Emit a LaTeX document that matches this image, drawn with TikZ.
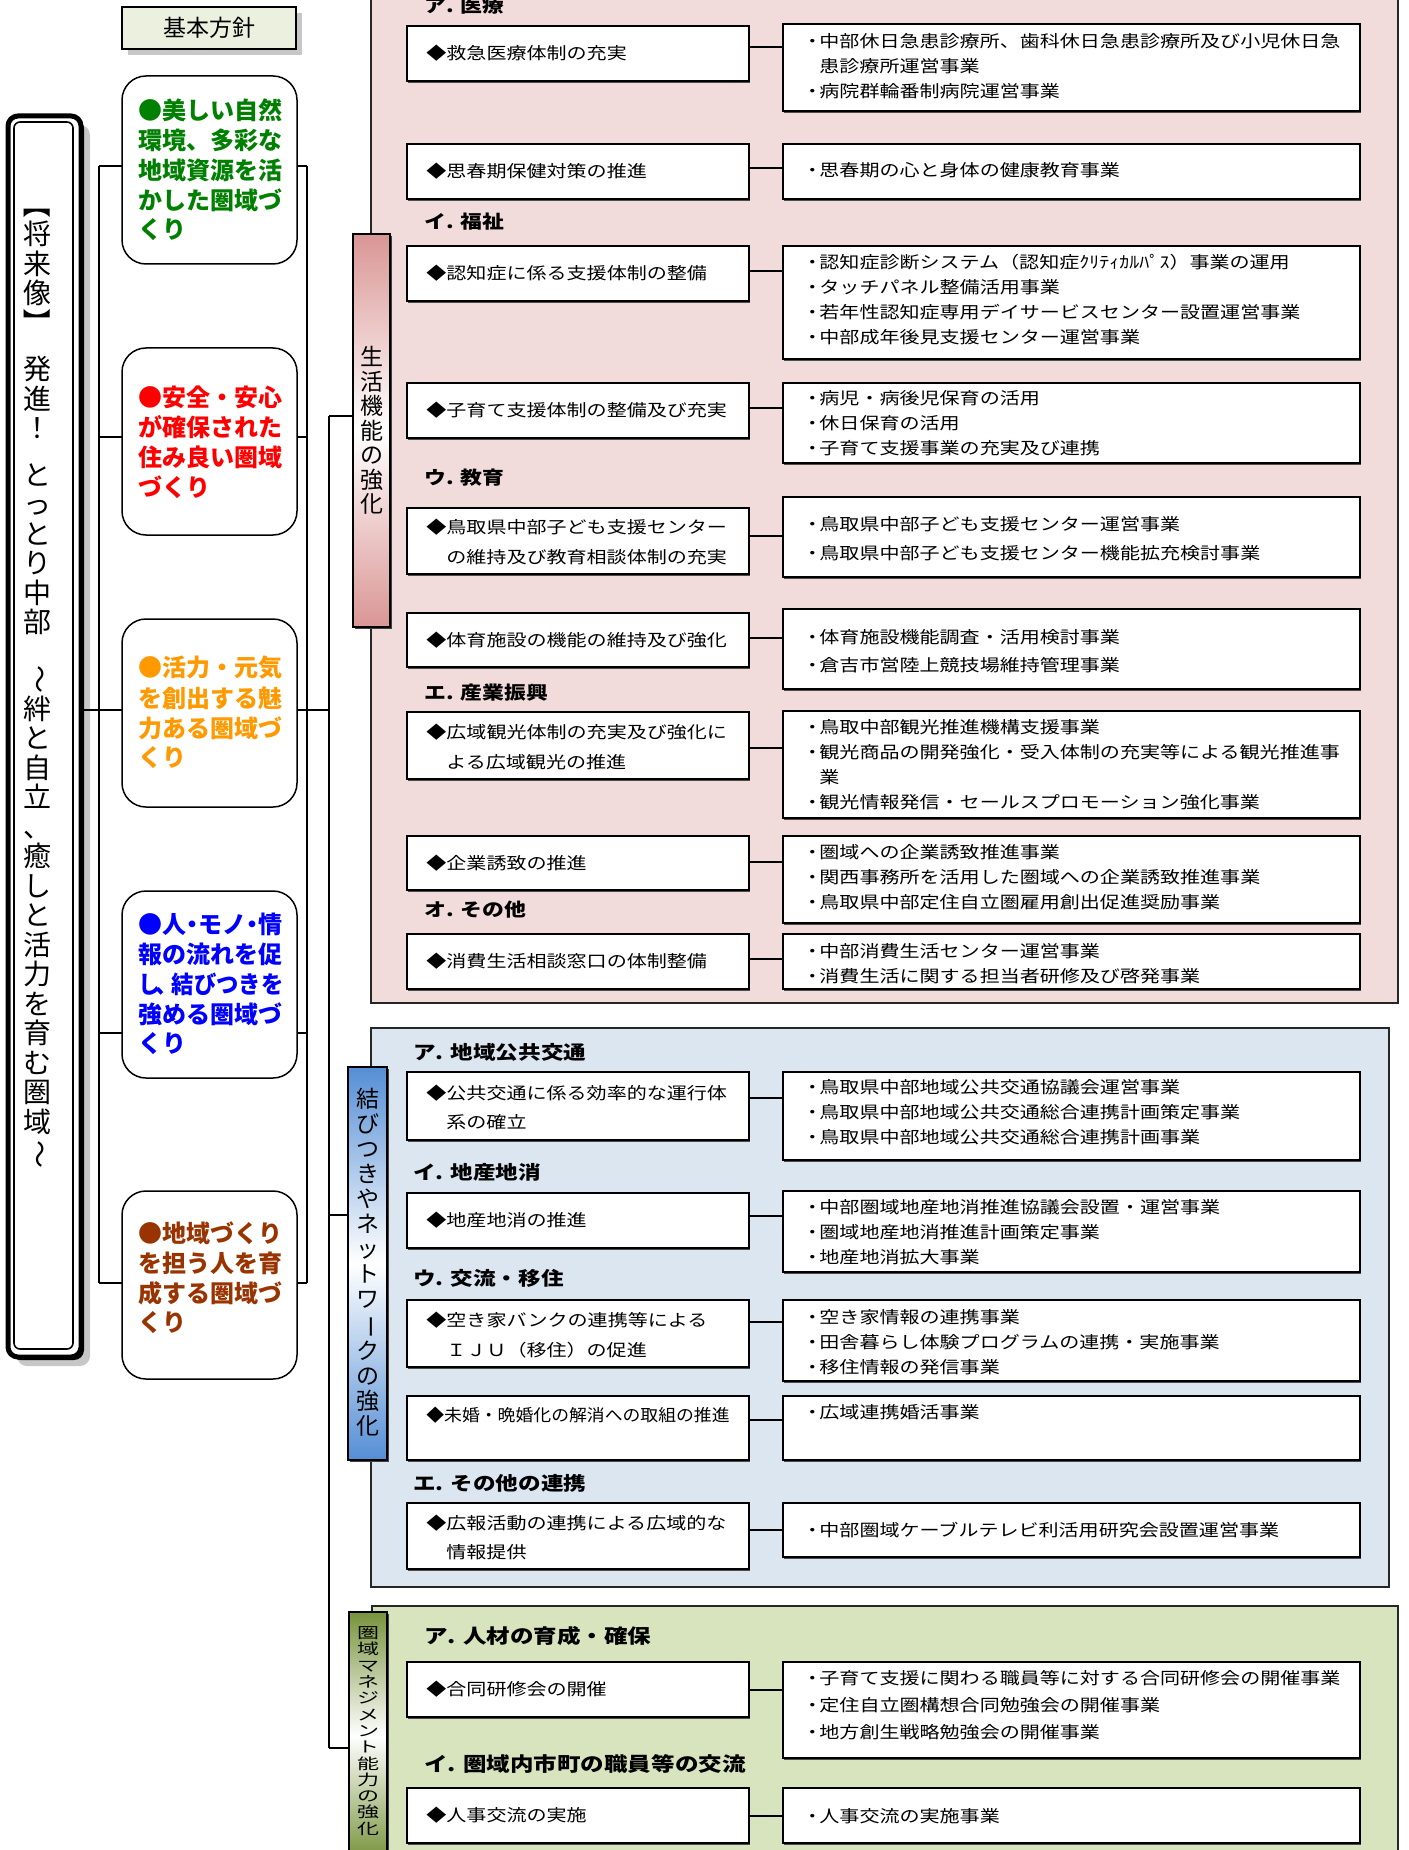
\documentclass[tikz,border=0pt]{standalone}
\usepackage{fontspec}
\usepackage{graphicx}
\setmainfont{Noto Sans CJK JP}
\newfontfamily\pfont{Noto Sans CJK JP}[FakeStretch=1.2]
\usetikzlibrary{shadows}
\definecolor{pinkbg}{RGB}{242,220,219}
\definecolor{bluebg}{RGB}{220,230,241}
\definecolor{greenbg}{RGB}{215,228,189}
\definecolor{kihonbg}{RGB}{235,241,222}
\definecolor{redlab}{RGB}{217,150,148}
\definecolor{bluelab}{RGB}{85,142,213}
\definecolor{greenlab}{RGB}{119,147,60}
\definecolor{pgreen}{RGB}{0,128,0}
\definecolor{pred}{RGB}{255,0,0}
\definecolor{porange}{RGB}{255,153,0}
\definecolor{pblue}{RGB}{0,0,255}
\definecolor{pbrown}{RGB}{153,51,0}
\newcommand\vrot[1]{\rotatebox[origin=c]{-90}{#1}}
\newcommand\bulp{\makebox[7pt][c]{・}}
\newcommand\indr{\hspace*{7pt}}
\newcommand\indl{\hspace*{10pt}}
\newcommand\halfw[1]{\makebox[0.5em][c]{#1}}
\newcommand\rbox[6][]{\node[#1,anchor=north west,inner sep=0pt,outer sep=0pt,minimum width={((#5)-(#3))*0.5pt},minimum height={((#6)-(#4))*0.5pt}] (#2) at (#3,#4) {};}
\newcommand\tlines[6][]{\foreach \s [count=\i from 0] in {#6}{\node[ptext,#1,anchor=west] (#2-\i) at (#3,{#4+\i*(#5)}) {\ignorespaces\s};}}
\begin{document}
\begin{tikzpicture}[x=0.5pt,y=-0.5pt,
  tree/.style={line width=0.75pt},
  conn/.style={line width=1.1pt},
  lb/.style={draw,line width=1pt,fill=white,general shadow={fill=black!70,shadow xshift=0.6pt,shadow yshift=-0.8pt}},
  panel/.style={draw=black!85,line width=0.8pt,general shadow={fill=black!60,shadow xshift=0.7pt,shadow yshift=-0.7pt}},
  lab/.style={draw,line width=1pt,general shadow={fill=black!75,shadow xshift=0.8pt,shadow yshift=-0.8pt}},
  polst/.style={draw,line width=0.75pt,rounded corners=12pt,fill=white},
  kihonst/.style={draw,line width=0.8pt,fill=kihonbg,general shadow={fill=black!22,shadow xshift=3pt,shadow yshift=-3pt}},
  visionst/.style={draw,line width=2.5pt,rounded corners=5pt,fill=white,
     general shadow={fill=black!22,shadow xshift=4.5pt,shadow yshift=-4.5pt},
     general shadow={fill=black,shadow xshift=1.5pt,shadow yshift=-1.5pt}},
  ptext/.style={inner sep=0pt,font=\pfont\fontsize{8.35pt}{10pt}\selectfont},
  hP/.style={font=\pfont\bfseries\fontsize{9.1pt}{10pt}\selectfont},
  hB/.style={font=\pfont\bfseries\fontsize{9.4pt}{10pt}\selectfont},
  hG/.style={font=\pfont\bfseries\fontsize{9.8pt}{11pt}\selectfont},
  poltext/.style={font=\bfseries\fontsize{12pt}{15pt}\selectfont},
  labtext/.style={inner sep=0pt,align=center},
]
\useasboundingbox (0,0) rectangle (1408,1850);
\clip (0,0) rectangle (1408,1850);

% ---------- panels ----------
\rbox[panel,fill=pinkbg]{pinkp}{371}{-20}{1398}{1003}
\rbox[panel,fill=bluebg]{bluep}{371}{1028}{1389}{1587}
\rbox[panel,fill=greenbg]{greenp}{372}{1606}{1398}{1880}

% ---------- category labels ----------
\rbox[lab,top color=redlab,bottom color=redlab,middle color=white]{lab1}{353}{234}{390}{627}
\rbox[lab,top color=bluelab,bottom color=bluelab,middle color=white]{lab2}{348}{1067}{387}{1460}
\rbox[lab,top color=greenlab,bottom color=greenlab,middle color=white]{lab3}{349}{1612}{387}{1860}
\node[labtext,font=\fontsize{11.5pt}{12.25pt}\selectfont] (lab1t) at (lab1.center) {生\\活\\機\\能\\の\\強\\化};
\node[labtext,font=\fontsize{11.5pt}{12.5pt}\selectfont] (lab2t) at ([yshift=0.8pt]lab2.center) {結\\び\\つ\\き\\や\\ネ\\ッ\\ト\\ワ\\\vrot{ー}\\ク\\の\\強\\化};
\node[labtext] (lab3t) at ([yshift=2.5pt]lab3.center) {\scalebox{1}[0.68]{\parbox{11pt}{\centering\fontsize{11pt}{12pt}\selectfont 圏\\域\\マ\\ネ\\ジ\\メ\\ン\\ト\\能\\力\\の\\強\\化}}};

% ---------- vision box ----------
\rbox[visionst]{vision}{8}{116}{81}{1357}
\draw[line width=0.8pt,rounded corners=3pt] ([shift={(6,6)}]vision.north west) rectangle ([shift={(-8,-8)}]vision.south east);
\node[labtext,anchor=north,font=\fontsize{14pt}{14.75pt}\selectfont] (vist) at (37,190)
 {\vrot{【}\\将\\来\\像\\\vrot{】}\\[8.5pt]発\\進\\！\\[8.5pt]と\\っ\\と\\り\\中\\部\\[12.5pt]\vrot{～}\\絆\\と\\自\\立\\、\\癒\\し\\と\\活\\力\\を\\育\\む\\圏\\域\\\vrot{～}};

% ---------- basic policy ----------
\rbox[kihonst]{kihon}{122}{7}{296}{49}
\node[inner sep=0pt,font=\fontsize{11.5pt}{12pt}\selectfont] (kihont) at (kihon.center) {基本方針};

\rbox[polst]{p1}{122}{76}{297}{264}
\rbox[polst]{p2}{122}{348}{297}{535}
\rbox[polst]{p3}{122}{619}{297}{807}
\rbox[polst]{p4}{122}{891}{297}{1078}
\rbox[polst]{p5}{122}{1191}{297}{1379}
\tlines[poltext,text=pgreen]{pt1}{138}{110}{30}{●美しい自然,環境、多彩な,地域資源を活,かした圏域づ,くり}
\tlines[poltext,text=pred]{pt2}{138}{397}{30}{●安全・安心,が確保された,住み良い圏域,づくり}
\tlines[poltext,text=porange]{pt3}{138}{668}{30}{●活力・元気,を創出する魅,力ある圏域づ,くり}
\tlines[poltext,text=pblue]{pt4}{138}{924}{30}{●人\halfw{・}モノ\halfw{・}情,報の流れを促,\scalebox{0.93}[1]{し\halfw{、}結びつきを},強める圏域づ,くり}
\tlines[poltext,text=pbrown]{pt5}{138}{1233}{30}{●地域づくり,を担う人を育,成する圏域づ,くり}

% ---------- tree connectors ----------
\coordinate (a1) at (99,166);  \coordinate (b1) at (307,166);
\coordinate (a2) at (99,437);  \coordinate (b2) at (307,437);
\coordinate (a3) at (99,710);  \coordinate (b3) at (307,710);
\coordinate (a4) at (99,1033); \coordinate (b4) at (307,1033);
\coordinate (a5) at (99,1283); \coordinate (b5) at (307,1283);
\coordinate (c1) at (329,416); \coordinate (c2) at (329,1215); \coordinate (c3) at (329,1748);
\draw[tree] (a1) -- (a5);
\draw[tree] (b1) -- (b5);
\draw[tree] (c1) -- (c3);
\draw[tree] (vision.east |- a3) -- (a3 -| p3.west);
\foreach \k in {1,2,4,5} {\draw[tree] (a\k) -- (a\k -| p\k.west);}
\foreach \k in {1,2,3,4,5} {\draw[tree] (b\k -| p\k.east) -- (b\k);}
\draw[tree] (b3) -- (b3 -| c1);
\draw[tree] (c1) -- (c1 -| lab1.west);
\draw[tree] (c2) -- (c2 -| lab2.west);
\draw[tree] (c3) -- (c3 -| lab3.west);

% ---------- headings ----------
\tlines[hP]{hp1}{424}{6}{0}{ア. 医療}
\tlines[hP]{hp2}{424}{222}{0}{イ. 福祉}
\tlines[hP]{hp3}{424}{478}{0}{ウ. 教育}
\tlines[hP]{hp4}{424}{693}{0}{エ. 産業振興}
\tlines[hP]{hp5}{424}{910}{0}{オ. その他}
\tlines[hB]{hb1}{413}{1052}{0}{ア. 地域公共交通}
\tlines[hB]{hb2}{413}{1172}{0}{イ. 地産地消}
\tlines[hB]{hb3}{413}{1278}{0}{ウ. 交流・移住}
\tlines[hB]{hb4}{413}{1483}{0}{エ. その他の連携}
\tlines[hG]{hg1}{424}{1636}{0}{ア. 人材の育成・確保}
\tlines[hG]{hg2}{424}{1764}{0}{イ. 圏域内市町の職員等の交流}

% ---------- measure boxes ----------
\rbox[lb]{L1}{407}{26}{749}{81}      \rbox[lb]{R1}{783}{24}{1360}{111}
\rbox[lb]{L2}{407}{144}{749}{199}    \rbox[lb]{R2}{783}{144}{1360}{199}
\rbox[lb]{L3}{407}{246}{749}{301}    \rbox[lb]{R3}{783}{246}{1360}{359}
\rbox[lb]{L4}{407}{383}{749}{438}    \rbox[lb]{R4}{783}{383}{1360}{463}
\rbox[lb]{L5}{407}{508}{749}{574}    \rbox[lb]{R5}{783}{497}{1360}{577}
\rbox[lb]{L6}{407}{613}{749}{667}    \rbox[lb]{R6}{783}{609}{1360}{689}
\rbox[lb]{L7}{407}{712}{749}{779}    \rbox[lb]{R7}{783}{711}{1360}{818}
\rbox[lb]{L8}{407}{836}{749}{890}    \rbox[lb]{R8}{783}{836}{1360}{923}
\rbox[lb]{L9}{407}{934}{749}{989}    \rbox[lb]{R9}{783}{934}{1360}{989}
\rbox[lb]{L10}{407}{1072}{749}{1140} \rbox[lb]{R10}{783}{1072}{1360}{1160}
\rbox[lb]{L11}{407}{1193}{749}{1248} \rbox[lb]{R11}{783}{1191}{1360}{1272}
\rbox[lb]{L12}{407}{1300}{749}{1367} \rbox[lb]{R12}{783}{1300}{1360}{1381}
\rbox[lb]{L13}{407}{1396}{749}{1460} \rbox[lb]{R13}{783}{1396}{1360}{1460}
\rbox[lb]{L14}{407}{1503}{749}{1569} \rbox[lb]{R14}{783}{1503}{1360}{1557}
\rbox[lb]{L15}{407}{1662}{749}{1717} \rbox[lb]{R15}{783}{1662}{1360}{1758}
\rbox[lb]{L16}{407}{1788}{749}{1843} \rbox[lb]{R16}{783}{1788}{1360}{1843}

\foreach \k/\yy in {1/47,2/168,3/271,4/408,5/536,6/638,7/748,8/862,9/959,10/1098,11/1216,12/1322,13/1420,14/1530,15/1690,16/1816}
  {\draw[conn] (L\k.east |- 0,\yy) -- (R\k.west |- 0,\yy);}

% ---------- left texts ----------
\tlines{lt1}{426}{53.5}{0}{◆救急医療体制の充実}
\tlines{lt2}{426}{171.5}{0}{◆思春期保健対策の推進}
\tlines{lt3}{426}{273.5}{0}{◆認知症に係る支援体制の整備}
\tlines{lt4}{426}{410.5}{0}{◆子育て支援体制の整備及び充実}
\tlines{lt5}{426}{527}{30}{◆鳥取県中部子ども支援センター,\indl の維持及び教育相談体制の充実}
\tlines{lt6}{426}{640}{0}{◆体育施設の機能の維持及び強化}
\tlines{lt7}{426}{732}{30}{◆広域観光体制の充実及び強化に,\indl よる広域観光の推進}
\tlines{lt8}{426}{863}{0}{◆企業誘致の推進}
\tlines{lt9}{426}{961.5}{0}{◆消費生活相談窓口の体制整備}
\tlines{lt10}{426}{1093}{29}{◆公共交通に係る効率的な運行体,\indl 系の確立}
\tlines{lt11}{426}{1220.5}{0}{◆地産地消の推進}
\tlines{lt12}{426}{1320}{30}{◆空き家バンクの連携等による,\indl ＩＪＵ（移住）の促進}
\tlines{lt13}{426}{1415}{0}{\scalebox{0.89}[1]{◆未婚・晩婚化の解消への取組の推進}}
\tlines{lt14}{426}{1523}{29}{◆広報活動の連携による広域的な,\indl 情報提供}
\tlines{lt15}{426}{1689.5}{0}{◆合同研修会の開催}
\tlines{lt16}{426}{1815.5}{0}{◆人事交流の実施}

% ---------- right texts ----------
\tlines{rt1}{805}{41}{25}{\bulp 中部休日急患診療所、歯科休日急患診療所及び小児休日急,\indr 患診療所運営事業,\bulp 病院群輪番制病院運営事業}
\tlines{rt2}{805}{170}{0}{\bulp 思春期の心と身体の健康教育事業}
\tlines{rt3}{805}{262}{25}{\bulp 認知症診断システム（認知症ｸﾘﾃｨｶﾙﾊﾟｽ）事業の運用,\bulp タッチパネル整備活用事業,\bulp 若年性認知症専用デイサービスセンター設置運営事業,\bulp 中部成年後見支援センター運営事業}
\tlines{rt4}{805}{398}{25}{\bulp 病児・病後児保育の活用,\bulp 休日保育の活用,\bulp 子育て支援事業の充実及び連携}
\tlines{rt5}{805}{524}{29}{\bulp 鳥取県中部子ども支援センター運営事業,\bulp 鳥取県中部子ども支援センター機能拡充検討事業}
\tlines{rt6}{805}{637}{28}{\bulp 体育施設機能調査・活用検討事業,\bulp 倉吉市営陸上競技場維持管理事業}
\tlines{rt7}{805}{727}{25}{\bulp 鳥取中部観光推進機構支援事業,\bulp 観光商品の開発強化・受入体制の充実等による観光推進事,\indr 業,\bulp 観光情報発信・セールスプロモーション強化事業}
\tlines{rt8}{805}{852}{25}{\bulp 圏域への企業誘致推進事業,\bulp 関西事務所を活用した圏域への企業誘致推進事業,\bulp 鳥取県中部定住自立圏雇用創出促進奨励事業}
\tlines{rt9}{805}{951}{25}{\bulp 中部消費生活センター運営事業,\bulp 消費生活に関する担当者研修及び啓発事業}
\tlines{rt10}{805}{1087}{25}{\bulp 鳥取県中部地域公共交通協議会運営事業,\bulp 鳥取県中部地域公共交通総合連携計画策定事業,\bulp 鳥取県中部地域公共交通総合連携計画事業}
\tlines{rt11}{805}{1207}{25}{\bulp 中部圏域地産地消推進協議会設置・運営事業,\bulp 圏域地産地消推進計画策定事業,\bulp 地産地消拡大事業}
\tlines{rt12}{805}{1317}{25}{\bulp 空き家情報の連携事業,\bulp 田舎暮らし体験プログラムの連携・実施事業,\bulp 移住情報の発信事業}
\tlines{rt13}{805}{1412}{0}{\bulp 広域連携婚活事業}
\tlines{rt14}{805}{1530}{0}{\bulp 中部圏域ケーブルテレビ利活用研究会設置運営事業}
\tlines{rt15}{805}{1678}{27}{\bulp 子育て支援に関わる職員等に対する合同研修会の開催事業,\bulp 定住自立圏構想合同勉強会の開催事業,\bulp 地方創生戦略勉強会の開催事業}
\tlines{rt16}{805}{1816}{0}{\bulp 人事交流の実施事業}
\end{tikzpicture}
\end{document}
